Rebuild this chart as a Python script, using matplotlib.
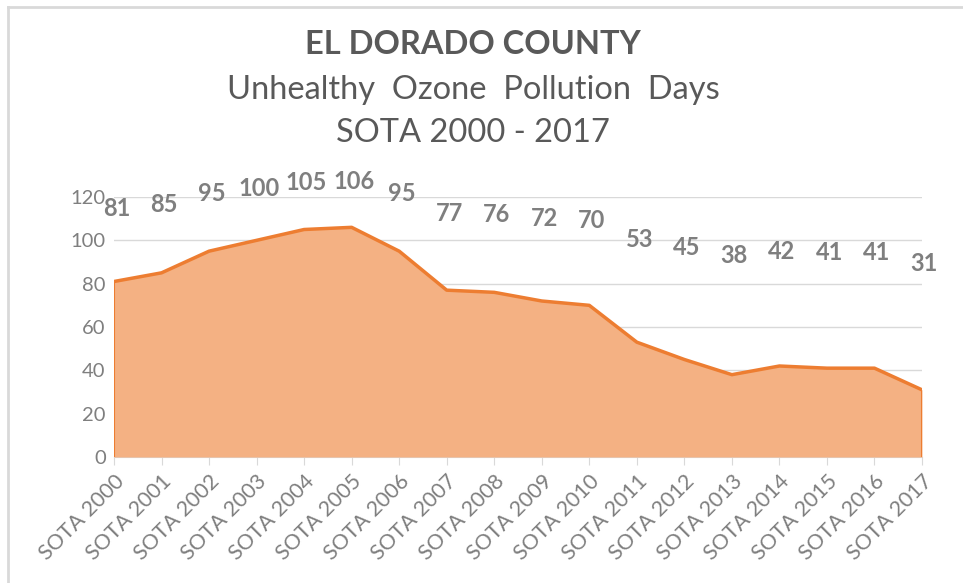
import matplotlib
matplotlib.use("Agg")
import matplotlib.pyplot as plt
from matplotlib.lines import Line2D

years = [f"SOTA {y}" for y in range(2000, 2018)]
values = [81, 85, 95, 100, 105, 106, 95, 77, 76, 72, 70, 53, 45, 38, 42, 41, 41, 31]
yticks = [0, 20, 40, 60, 80, 100, 120]

FONT = "Lato"
GRAY = "#7f7f7f"
TITLE_GRAY = "#595959"

fig = plt.figure(figsize=(9.63, 5.83), dpi=100)
ax = fig.add_axes([114/963, 1-457/583, (922-114)/963, (457-197)/583])

x = list(range(len(values)))
ax.fill_between(x, values, 0, color="#F4B183", linewidth=0, zorder=2)
ax.plot(x, values, color="#ED7D31", linewidth=2.5, zorder=3, solid_joinstyle="round")
ax.plot([0, 0], [0, values[0]], color="#ED7D31", linewidth=1.5, zorder=3)
ax.plot([x[-1], x[-1]], [0, values[-1]], color="#ED7D31", linewidth=1.5, zorder=3)

ax.set_xlim(0, len(values) - 1)
ax.set_ylim(0, 120)
ax.set_yticks(yticks)
ax.set_yticklabels([str(t) for t in yticks], fontsize=14.5, color=GRAY, family=FONT)
ax.set_xticks(x)
ax.set_xticklabels(years, rotation=45, ha="right", va="top", rotation_mode="anchor",
                   fontsize=15.5, color=GRAY, family=FONT)
ax.tick_params(axis="y", length=0, pad=6)
ax.tick_params(axis="x", length=6, color="#d9d9d9", pad=4)
ax.grid(axis="y", color="#d9d9d9", linewidth=1, zorder=0)
ax.set_axisbelow(True)
for s in ["top", "right", "left"]:
    ax.spines[s].set_visible(False)
ax.spines["bottom"].set_color("#d9d9d9")
ax.spines["bottom"].set_zorder(1)

for xi, v in zip(x, values):
    ax.text(xi + 0.05, v / 2 + 74, str(v), ha="center", va="center", fontsize=17,
            fontweight="bold", color=GRAY, family=FONT, zorder=5, clip_on=False)

fig.text(473/963, 1-44/583, "EL DORADO COUNTY", ha="center", va="center",
         fontsize=23.5, fontweight="bold", color=TITLE_GRAY, family=FONT)
fig.text(473/963, 1-90/583, "Unhealthy  Ozone  Pollution  Days", ha="center", va="center",
         fontsize=23.5, color=TITLE_GRAY, family=FONT)
fig.text(473/963, 1-133/583, "SOTA 2000 - 2017", ha="center", va="center",
         fontsize=23.5, color=TITLE_GRAY, family=FONT)

fig.add_artist(Line2D([8/963, 1], [1-7/583, 1-7/583], transform=fig.transFigure,
                      color="#d9d9d9", linewidth=2))
fig.add_artist(Line2D([8/963, 8/963], [0, 1-7/583], transform=fig.transFigure,
                      color="#d9d9d9", linewidth=2))

fig.savefig("out.png", dpi=100)
